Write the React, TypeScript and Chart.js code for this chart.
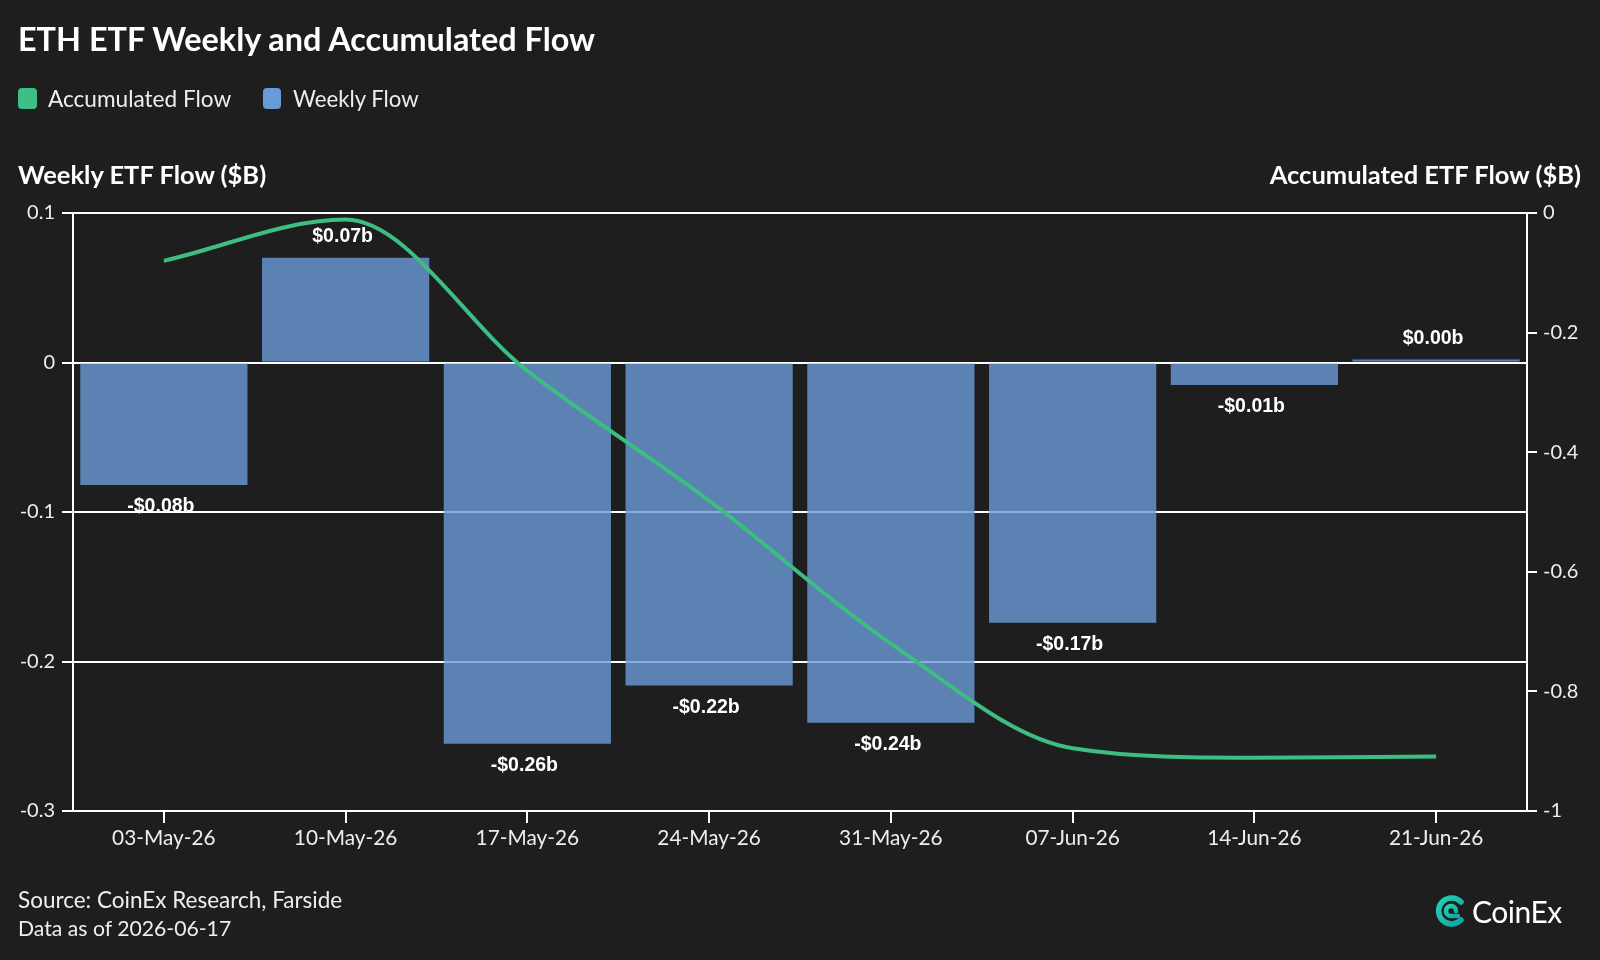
import React, { useEffect, useRef } from "react";
import { Chart, registerables } from "chart.js";

Chart.register(...registerables);

const categories = ["03-May-26", "10-May-26", "17-May-26", "24-May-26", "31-May-26", "07-Jun-26", "14-Jun-26", "21-Jun-26"];
const weeklyFlow = [-0.082, 0.07, -0.255, -0.216, -0.241, -0.174, -0.015, 0.002];
const accumulatedFlow = [-0.08, -0.011, -0.264, -0.481, -0.72, -0.895, -0.911, -0.909];
const weeklyLabels = ["-$0.08b", "$0.07b", "-$0.26b", "-$0.22b", "-$0.24b", "-$0.17b", "-$0.01b", "$0.00b"];
const leftAxisRange = [-0.3, 0.1];
const rightAxisRange = [-1, 0];

const BG = "#1e1e1e";
const TEXT = "#eeeeee";
const FONT = "Lato, 'Noto Sans', sans-serif";

const barLabelPlugin = {
  id: "barLabels",
  afterDatasetsDraw(chart: any) {
    const meta = chart.getDatasetMeta(1);
    const ctx = chart.ctx;
    ctx.save();
    ctx.fillStyle = "#ffffff";
    ctx.font = "bold 19.5px 'Liberation Sans', Arial, sans-serif";
    ctx.textAlign = "center";
    ctx.textBaseline = "middle";
    meta.data.forEach((el: any, i: number) => {
      const v = weeklyFlow[i];
      const y = v < 0 ? el.y + 22 : el.y - 21;
      ctx.fillText(weeklyLabels[i], el.x - 3, y);
    });
    ctx.restore();
  },
};

function ChartCanvas() {
  const ref = useRef<HTMLCanvasElement | null>(null);
  useEffect(() => {
    if (!ref.current) return;
    const chart = new Chart(ref.current, {
      type: "bar",
      data: {
        labels: categories,
        datasets: [
          {
            type: "line",
            label: "Accumulated Flow",
            data: accumulatedFlow,
            yAxisID: "yRight",
            borderColor: "#3dbd82",
            backgroundColor: "#3dbd82",
            borderWidth: 4,
            pointRadius: 0,
            cubicInterpolationMode: "monotone",
            order: 0,
          } as any,
          {
            type: "bar",
            label: "Weekly Flow",
            data: weeklyFlow,
            yAxisID: "yLeft",
            backgroundColor: "rgba(107,155,216,0.80)",
            borderWidth: 0,
            barPercentage: 0.92,
            categoryPercentage: 1,
            order: 1,
          },
        ],
      },
      options: {
        animation: false,
        responsive: false,
        maintainAspectRatio: false,
        layout: { padding: { left: 0, right: 13, top: 213, bottom: 109 } },
        plugins: {
          legend: { display: false },
          title: { display: false },
          tooltip: { enabled: false },
        },
        scales: {
          x: {
            offset: true,
            grid: { drawOnChartArea: false, drawTicks: true, offset: false, tickLength: 12, color: "#ffffff", lineWidth: 2 },
            border: { display: true, color: "#ffffff", width: 2 },
            ticks: { color: TEXT, font: { family: FONT, size: 20.8 }, padding: 3, maxRotation: 0 },
            afterFit: (s: any) => { s.height = 40; },
          },
          yLeft: {
            position: "left",
            min: leftAxisRange[0],
            max: leftAxisRange[1],
            ticks: { stepSize: 0.1, color: TEXT, font: { family: FONT, size: 20 }, padding: 7, callback: (v: any) => String(Math.round(Number(v) * 10) / 10) },
            grid: { color: "#ffffff", lineWidth: 2, tickLength: 11, drawTicks: true },
            border: { display: true, color: "#ffffff", width: 2 },
            afterFit: (s: any) => { s.width = 73; },
          },
          yRight: {
            position: "right",
            min: rightAxisRange[0],
            max: rightAxisRange[1],
            ticks: { stepSize: 0.2, color: TEXT, font: { family: FONT, size: 20 }, padding: 6, callback: (v: any) => String(Math.round(Number(v) * 10) / 10) },
            grid: { drawOnChartArea: false, color: "#ffffff", lineWidth: 2, tickLength: 10, drawTicks: true },
            border: { display: true, color: "#ffffff", width: 2 },
            afterFit: (s: any) => { s.width = 60; },
          },
        },
      },
      plugins: [barLabelPlugin],
    });
    return () => chart.destroy();
  }, []);
  return <canvas ref={ref} width={1600} height={960} style={{ position: "absolute", left: 0, top: 0, width: 1600, height: 960 }} />;
}

function Text({ x, y, size, bold, children, right, color }: any) {
  const style: any = {
    position: "absolute",
    top: y - size * 0.6,
    fontFamily: FONT,
    fontSize: size,
    fontWeight: bold ? 700 : 400,
    lineHeight: `${size * 1.2}px`,
    color: color || TEXT,
    whiteSpace: "nowrap",
  };
  if (right) style.right = 1600 - x;
  else style.left = x;
  return <div style={style}>{children}</div>;
}

function Logo() {
  return (
    <div style={{ position: "absolute", left: 1434, top: 893, height: 36, display: "flex", alignItems: "center" }}>
      <svg width="34" height="34" viewBox="0 0 34 34">
        <defs>
          <linearGradient id="cg" x1="0" y1="0" x2="1" y2="1">
            <stop offset="0" stopColor="#22d3b5" />
            <stop offset="1" stopColor="#12a3a8" />
          </linearGradient>
        </defs>
        <path d="M27 8 A13 13 0 1 0 27 26" fill="none" stroke="url(#cg)" strokeWidth="5.5" strokeLinecap="round" />
        <path d="M22 17 A5 5 0 1 0 17 22 L24 22" fill="none" stroke="url(#cg)" strokeWidth="4.5" strokeLinecap="round" />
      </svg>
      <span style={{ marginLeft: 4, fontFamily: FONT, fontSize: 30, color: "#ffffff", letterSpacing: -0.5 }}>CoinEx</span>
    </div>
  );
}

export default function App() {
  return (
    <div style={{ position: "absolute", left: 0, top: 0, width: 1600, height: 960, background: BG, overflow: "hidden" }}>
      <ChartCanvas />
      <Text x={18} y={39} size={32.4} bold color="#ffffff">ETH ETF Weekly and Accumulated Flow</Text>
      <div style={{ position: "absolute", left: 18, top: 88, width: 19, height: 21, borderRadius: 4, background: "#3fbf85" }} />
      <Text x={48} y={99} size={22.6}>Accumulated Flow</Text>
      <div style={{ position: "absolute", left: 263, top: 88, width: 18, height: 21, borderRadius: 4, background: "#6a9bd8" }} />
      <Text x={293} y={99} size={22.2}>Weekly Flow</Text>
      <Text x={18} y={174} size={25.5} bold color="#ffffff">Weekly ETF Flow ($B)</Text>
      <Text x={1581} y={174} size={25.5} bold right color="#ffffff">Accumulated ETF Flow ($B)</Text>
      <Text x={18} y={899} size={22.5}>Source: CoinEx Research, Farside</Text>
      <Text x={18} y={929} size={21.2}>Data as of 2026-06-17</Text>
      <Logo />
    </div>
  );
}
